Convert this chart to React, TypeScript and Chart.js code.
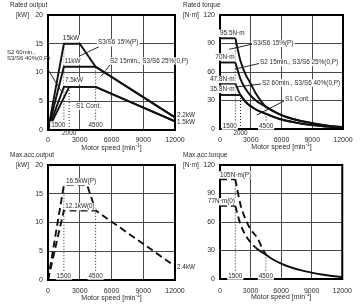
import React, { useEffect, useRef } from "react";
import { Chart, registerables } from "chart.js";

Chart.register(...registerables);

const FONT = '"Liberation Sans", Arial, sans-serif';
const INK = "#111";
const TEXT = "#2b2b2b";

// Axis ticks
const speedTicks = [0, 3000, 6000, 9000, 12000];
const outputTicks = [0, 5, 10, 15, 20];
const torqueTicks = [0, 30, 60, 90, 120];

// Rated output [kW] – corner points of each duty curve
const outS3S6_15Speeds = [0, 1500, 3000, 4500, 12000];
const outS3S6_15 = [0, 15, 15, 11, 2.2];
const outS2_15Speeds = [0, 1500, 4500, 12000];
const outS2_15 = [0, 11, 11, 2.2];
const outS2_60Speeds = [0, 1500, 4500, 12000];
const outS2_60 = [0, 7.5, 7.5, 1.5];
const outS1Speeds = [0, 2000, 4500, 12000];
const outS1 = [0, 7.5, 7.5, 1.5];

// Rated torque [N·m]
const torqueSpeeds = [1500, 2000, 2500, 3000, 3500, 4000, 4500, 6000, 7500, 9000, 10500, 12000];
const torqueS3S6_15 = [95.5, 71.6, 57.3, 47.7, 37.3, 29.4, 23.3, 14.7, 9.5, 6.1, 3.6, 1.8];
const torqueS2_15 = [70, 52.5, 42.0, 35.0, 30.0, 26.3, 23.3, 14.7, 9.5, 6.1, 3.6, 1.8];
const torqueS2_60 = [47.8, 35.8, 28.6, 23.9, 20.5, 17.9, 15.9, 10.0, 6.5, 4.1, 2.5, 1.2];
const torqueS1Speeds = [2000, 2500, 3000, 3500, 4000, 4500, 6000, 7500, 9000, 10500, 12000];
const torqueS1 = [35.8, 28.6, 23.9, 20.5, 17.9, 15.9, 10.0, 6.5, 4.1, 2.5, 1.2];

// Max. acceleration output [kW]
const accOutPSpeeds = [0, 1500, 3700, 4500, 12000];
const accOutP = [0, 16.5, 16.5, 12.1, 2.4];
const accOutOSpeeds = [0, 1500, 4500];
const accOutO = [0, 12.1, 12.1];

// Max. acceleration torque [N·m]
const accTorquePSpeeds = [1500, 2000, 2500, 3000, 3700, 4100, 4500];
const accTorqueP = [105, 78.8, 63.0, 52.5, 42.6, 33.3, 25.7];
const accTorqueOSpeeds = [1500, 2000, 2500, 3000, 3500];
const accTorqueO = [77, 57.8, 46.2, 38.5, 33.0];
const accTailSpeeds = [3500, 4000, 4500, 5000, 6000, 7000, 8000, 9000, 10000, 11000, 12000];
const accTail = [33.0, 28.9, 25.7, 21.9, 16.2, 12.1, 9.0, 6.7, 4.8, 3.2, 1.9];

// Dotted base-speed markers: speed, upper end, lower end
const ratedOutMarkSpeeds = [1500, 2000, 4500];
const ratedOutMarkTops = [15, 7.5, 11];
const ratedOutMarkBottoms = [1.8, 0, 1.8];
const ratedTqMarkSpeeds = [1500, 2000, 4500];
const ratedTqMarkTops = [95.5, 35.8, 23.3];
const ratedTqMarkBottoms = [9, 0, 9];
const accOutMarkSpeeds = [1500, 4500];
const accOutMarkTops = [16.5, 12.1];
const accOutMarkBottoms = [1.6, 1.6];
const accTqMarkSpeeds = [1500, 4500];
const accTqMarkTops = [105, 25.7];
const accTqMarkBottoms = [9, 9];

type Pt = { x: number; y: number };
const pts = (xs: number[], ys: number[]): Pt[] => xs.map((x, i) => ({ x, y: ys[i] }));

const lineSet = (xs: number[], ys: number[], extra: Record<string, unknown> = {}) => ({
  data: pts(xs, ys),
  borderColor: INK,
  borderWidth: 1.9,
  pointRadius: 0,
  tension: 0,
  fill: false,
  ...extra,
});

// Flat constant-torque part followed by the smooth fall-off
const torqueCurve = (xs: number[], ys: number[], extra: Record<string, unknown> = {}) => [
  lineSet([0, xs[0]], [ys[0], ys[0]], extra),
  lineSet(xs, ys, { cubicInterpolationMode: "monotone", ...extra }),
];

const markSets = (xs: number[], tops: number[], bottoms: number[]) =>
  xs.map((x, i) =>
    lineSet([x, x], [bottoms[i], tops[i]], { borderWidth: 1, borderDash: [1, 2], borderColor: "#222" })
  );

const DASH = { borderDash: [7, 4], borderWidth: 1.9 };

interface Label {
  text: string;
  x?: number;
  speed?: number;
  dx?: number;
  y: number;
  align?: CanvasTextAlign;
  bg?: boolean;
  size?: number;
}

interface PanelSpec {
  left: number;
  top: number;
  width: number;
  height: number;
  axisW: number;
  padRight: number;
  axisH: number;
  tickPad: number;
  yTicks: number[];
  datasets: any[];
  labels: Label[];
  leaders: number[][];
}

const ANN = 6.4;

const panels: PanelSpec[] = [
  {
    left: 0, top: 0, width: 200, height: 152,
    axisW: 48, padRight: 25, axisH: 22, tickPad: 6,
    yTicks: outputTicks,
    datasets: [
      lineSet(outS3S6_15Speeds, outS3S6_15),
      lineSet(outS2_15Speeds, outS2_15),
      lineSet(outS2_60Speeds, outS2_60),
      lineSet(outS1Speeds, outS1),
      ...markSets(ratedOutMarkSpeeds, ratedOutMarkTops, ratedOutMarkBottoms),
    ],
    labels: [
      { text: "Rated output", x: 10, y: 5, size: 6.5 },
      { text: "[kW]", x: 16, y: 15, size: 6.5 },
      { text: "15kW", x: 71, y: 38.5, align: "center", bg: true },
      { text: "11kW", x: 72.5, y: 61, align: "center", bg: true },
      { text: "7.5kW", x: 74, y: 80.7, align: "center", bg: true },
      { text: "S1 Cont.", x: 88.5, y: 106, align: "center", bg: true },
      { text: "S3/S6 15%(P)", x: 98, y: 42.7, bg: true },
      { text: "S2 15min., S3/S6 25%(0,P)", x: 110, y: 61, bg: true },
      { text: "S2 60min.,", x: 7, y: 52.7, size: 6 },
      { text: "S3/S6 40%(0,P)", x: 7, y: 58.5, size: 6 },
      { text: "1500", speed: 1500, dx: 1.5, y: 125, align: "right", bg: true },
      { text: "2000", speed: 2000, y: 133.7, align: "center" },
      { text: "4500", speed: 4500, y: 125, align: "center", bg: true },
      { text: "2.2kW", x: 177, y: 115.5 },
      { text: "1.5kW", x: 177, y: 122.5 },
    ],
    leaders: [
      [99, 46.7, 79.5, 56],
      [111, 63.5, 101, 76.5],
      [47, 68, 61.5, 91.5],
    ],
  },
  {
    left: 180, top: 0, width: 180, height: 152,
    axisW: 40, padRight: 17, axisH: 23, tickPad: 7,
    yTicks: torqueTicks,
    datasets: [
      ...torqueCurve(torqueSpeeds, torqueS3S6_15),
      ...torqueCurve(torqueSpeeds, torqueS2_15),
      ...torqueCurve(torqueSpeeds, torqueS2_60),
      ...torqueCurve(torqueS1Speeds, torqueS1),
      ...markSets(ratedTqMarkSpeeds, ratedTqMarkTops, ratedTqMarkBottoms),
    ],
    labels: [
      { text: "Rated torque", x: 3, y: 5, size: 6.5 },
      { text: "[N·m]", x: 3, y: 15, size: 6.5 },
      { text: "95.5N·m", x: 40, y: 33.3, bg: true },
      { text: "70N·m", x: 54.5, y: 57, align: "right", bg: true },
      { text: "47.8N·m", x: 54.5, y: 79.5, align: "right", bg: true },
      { text: "35.8N·m", x: 54.5, y: 89.3, align: "right", bg: true },
      { text: "S3/S6 15%(P)", x: 73, y: 43.3, bg: true },
      { text: "S2 15min., S3/S6 25%(0,P)", x: 80, y: 62.5, bg: true },
      { text: "S2 60min., S3/S6 40%(0,P)", x: 82, y: 83, bg: true },
      { text: "S1 Cont.", x: 105, y: 99.3, bg: true },
      { text: "1500", speed: 1500, dx: 1.5, y: 126, align: "right", bg: true },
      { text: "2000", speed: 2000, y: 133.5, align: "center" },
      { text: "4500", speed: 4500, y: 126, align: "center", bg: true },
    ],
    leaders: [
      [72.7, 44, 49.3, 49.3],
      [80, 63.3, 55, 69],
      [81, 84, 53, 87.3],
      [104, 101, 76.7, 115],
    ],
  },
  {
    left: 0, top: 150, width: 200, height: 155,
    axisW: 48, padRight: 25, axisH: 25, tickPad: 7,
    yTicks: outputTicks,
    datasets: [
      lineSet(accOutPSpeeds, accOutP, DASH),
      lineSet(accOutOSpeeds, accOutO, DASH),
      ...markSets(accOutMarkSpeeds, accOutMarkTops, accOutMarkBottoms),
    ],
    labels: [
      { text: "Max.acc.output", x: 10, y: 5, size: 6.5 },
      { text: "[kW]", x: 16, y: 15, size: 6.5 },
      { text: "16.5kW(P)", x: 81, y: 31.7, align: "center", bg: true },
      { text: "12.1kW(0)", x: 80, y: 56.5, align: "center", bg: true },
      { text: "1500", speed: 1500, y: 126, align: "center", bg: true },
      { text: "4500", speed: 4500, y: 126, align: "center", bg: true },
      { text: "2.4kW", x: 177, y: 117 },
    ],
    leaders: [],
  },
  {
    left: 180, top: 150, width: 180, height: 155,
    axisW: 40, padRight: 17, axisH: 26, tickPad: 8,
    yTicks: torqueTicks,
    datasets: [
      ...torqueCurve(accTorquePSpeeds, accTorqueP, DASH),
      ...torqueCurve(accTorqueOSpeeds, accTorqueO, DASH),
      lineSet(accTailSpeeds, accTail, { cubicInterpolationMode: "monotone" }),
      ...markSets(accTqMarkSpeeds, accTqMarkTops, accTqMarkBottoms),
    ],
    labels: [
      { text: "Max.acc.torque", x: 3, y: 5, size: 6.5 },
      { text: "[N·m]", x: 3, y: 15, size: 6.5 },
      { text: "105N·m(P)", x: 40, y: 25, bg: true },
      { text: "77N·m(0)", x: 55, y: 51.7, align: "right", bg: true },
      { text: "1500", speed: 1500, y: 126, align: "center", bg: true },
      { text: "4500", speed: 4500, y: 126, align: "center", bg: true },
    ],
    leaders: [],
  },
];

function drawLabel(ctx: CanvasRenderingContext2D, l: Label, x: number) {
  const size = l.size ?? ANN;
  const align = l.align ?? "left";
  ctx.font = `${size}px ${FONT}`;
  ctx.textAlign = align;
  ctx.textBaseline = "middle";
  if (l.bg) {
    const w = ctx.measureText(l.text).width;
    const x0 = align === "left" ? x : align === "right" ? x - w : x - w / 2;
    ctx.fillStyle = "#fff";
    ctx.fillRect(x0 - 1, l.y - size / 2 - 0.5, w + 2, size + 1);
  }
  ctx.fillStyle = TEXT;
  ctx.fillText(l.text, x, l.y);
}

const decor = (spec: PanelSpec) => ({
  id: "decor",
  afterDatasetsDraw(chart: any) {
    const { ctx, chartArea: a, scales } = chart;
    ctx.save();
    // plot frame
    ctx.strokeStyle = "#000";
    ctx.lineWidth = 2;
    ctx.strokeRect(a.left, a.top, a.right - a.left, a.bottom - a.top);
    // leader lines
    ctx.strokeStyle = INK;
    ctx.lineWidth = 0.9;
    for (const [x1, y1, x2, y2] of spec.leaders) {
      ctx.beginPath();
      ctx.moveTo(x1, y1);
      ctx.lineTo(x2, y2);
      ctx.stroke();
    }
    for (const l of spec.labels) {
      const x = l.speed !== undefined ? scales.x.getPixelForValue(l.speed) + (l.dx ?? 0) : (l.x as number);
      drawLabel(ctx, l, x);
    }
    // x axis title with superscript unit
    const main = "Motor speed [min";
    const sup = "-1";
    const tail = "]";
    ctx.textBaseline = "middle";
    ctx.textAlign = "left";
    ctx.font = `7px ${FONT}`;
    const wMain = ctx.measureText(main).width;
    const wTail = ctx.measureText(tail).width;
    ctx.font = `4.8px ${FONT}`;
    const wSup = ctx.measureText(sup).width;
    const total = wMain + wSup + wTail;
    const cy = a.bottom + 18;
    let x = (a.left + a.right) / 2 - total / 2;
    ctx.fillStyle = TEXT;
    ctx.font = `7px ${FONT}`;
    ctx.fillText(main, x, cy);
    x += wMain;
    ctx.font = `4.8px ${FONT}`;
    ctx.fillText(sup, x, cy - 2.5);
    x += wSup;
    ctx.font = `7px ${FONT}`;
    ctx.fillText(tail, x, cy);
    ctx.restore();
  },
});

function Panel({ spec }: { spec: PanelSpec }) {
  const ref = useRef<HTMLCanvasElement>(null);
  useEffect(() => {
    const yt = spec.yTicks;
    const tickFont = { family: FONT, size: 7 };
    const chart = new Chart(ref.current as HTMLCanvasElement, {
      type: "line",
      data: { datasets: spec.datasets },
      options: {
        animation: false,
        responsive: false,
        devicePixelRatio: 1,
        events: [],
        layout: { padding: { left: 0, top: 15, right: spec.padRight, bottom: 0 } },
        plugins: { legend: { display: false }, tooltip: { enabled: false } },
        scales: {
          x: {
            type: "linear",
            min: speedTicks[0],
            max: speedTicks[speedTicks.length - 1],
            afterBuildTicks: (s: any) => {
              s.ticks = speedTicks.map((v) => ({ value: v }));
            },
            afterFit: (s: any) => {
              s.height = spec.axisH;
            },
            ticks: {
              font: tickFont,
              color: TEXT,
              padding: spec.tickPad,
              maxRotation: 0,
              autoSkip: false,
              callback: (v: any) => String(v),
            },
            grid: { color: "#4a4a4a", lineWidth: 1, drawTicks: false },
            border: { display: false },
          },
          y: {
            type: "linear",
            min: yt[0],
            max: yt[yt.length - 1],
            afterBuildTicks: (s: any) => {
              s.ticks = yt.map((v) => ({ value: v }));
            },
            afterFit: (s: any) => {
              s.width = spec.axisW;
            },
            ticks: {
              font: tickFont,
              color: TEXT,
              padding: 5,
              autoSkip: false,
              callback: (v: any) => String(v),
            },
            grid: { color: "#4a4a4a", lineWidth: 1, drawTicks: false },
            border: { display: false },
          },
        },
      } as any,
      plugins: [decor(spec)],
    });
    return () => chart.destroy();
  }, [spec]);
  return (
    <canvas
      ref={ref}
      width={spec.width}
      height={spec.height}
      style={{ position: "absolute", left: spec.left, top: spec.top }}
    />
  );
}

export default function App() {
  return (
    <div style={{ position: "absolute", left: 0, top: 0, width: 360, height: 305, background: "#fff", overflow: "hidden" }}>
      {panels.map((p, i) => (
        <Panel key={i} spec={p} />
      ))}
    </div>
  );
}
